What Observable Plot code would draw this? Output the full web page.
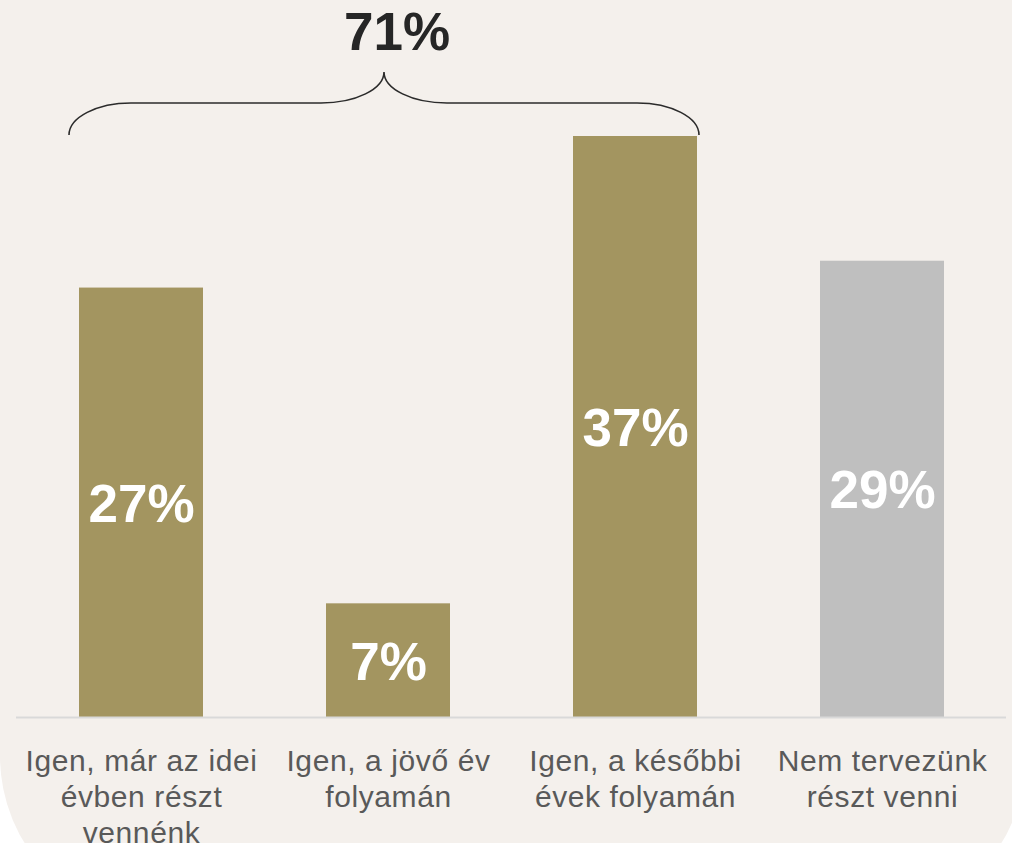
<!DOCTYPE html>
<html>
<head>
<meta charset="utf-8">
<script src="https://cdn.jsdelivr.net/npm/d3@7"></script>
<script src="https://cdn.jsdelivr.net/npm/@observablehq/plot@0.6"></script>
<style>
  html, body { margin: 0; padding: 0; width: 1012px; height: 843px; overflow: hidden; background: #ffffff; }
  #panel { position: absolute; left: 0; top: 0; width: 1026px; height: 923px; background: #f4f0ec;
           border-bottom-left-radius: 167px; border-bottom-right-radius: 167px; }
  #chart { position: absolute; left: 0; top: 0; }
  #chart svg { background: transparent; font-family: Arial, "Liberation Sans", sans-serif; }
  #chart text[aria-label="category-labels"], #chart text[aria-label="category-labels"] tspan { letter-spacing: 0.6px; }
</style>
</head>
<body>
<div id="panel"></div>
<div id="chart"></div>
<script>
const categories = [
  "Igen, már az idei\névben részt\nvennénk",
  "Igen, a jövő év\nfolyamán",
  "Igen, a későbbi\névek folyamán",
  "Nem tervezünk\nrészt venni"
];
const values = [27.2, 7.2, 36.8, 28.9];
const valueLabels = ["27%", "7%", "37%", "29%"];
const barColors = ["#a39560", "#a39560", "#a39560", "#bfbfbf"];
const braceLabel = "71%";
const bracedCount = 3;

const data = categories.map((c, i) => ({cat: c, value: values[i], label: valueLabels[i], color: barColors[i]}));

function braceMark(index, scales, channels, dimensions) {
  const x = scales.x, y = scales.y;
  const bw = x.bandwidth();
  const xL = x(categories[0]) - 10;
  const xR = x(categories[bracedCount - 1]) + bw + 2;
  const xC = (xL + xR) / 2;
  const yBot = y(d3.max(values.slice(0, bracedCount))) - 1;
  const yMid = yBot - 32;
  const yTop = yBot - 63;
  const r1 = 62, r2 = 63;
  const p = d3.path();
  p.moveTo(xL, yBot);
  p.bezierCurveTo(xL, yBot - 0.55 * (yBot - yMid), xL + r1 - 0.55 * r1, yMid, xL + r1, yMid);
  p.lineTo(xC - r2, yMid);
  p.bezierCurveTo(xC - r2 + 0.55 * r2, yMid, xC, yTop + 0.55 * (yMid - yTop), xC, yTop);
  p.bezierCurveTo(xC, yTop + 0.55 * (yMid - yTop), xC + r2 - 0.55 * r2, yMid, xC + r2, yMid);
  p.lineTo(xR - r1, yMid);
  p.bezierCurveTo(xR - r1 + 0.55 * r1, yMid, xR, yBot - 0.55 * (yBot - yMid), xR, yBot);
  const g = d3.create("svg:g");
  g.append("path").attr("d", p.toString()).attr("fill", "none")
    .attr("stroke", "#2b2b2b").attr("stroke-width", 1.6);
  g.append("text").attr("x", xC + 13).attr("y", yTop - 22)
    .attr("text-anchor", "middle").attr("font-size", 53).attr("font-weight", "bold")
    .attr("fill", "#262626").text(braceLabel);
  return g.node();
}

const chart = Plot.plot({
  width: 1012,
  height: 843,
  marginLeft: 16,
  marginRight: 6,
  marginTop: 136,
  marginBottom: 126,
  style: {background: "transparent", fontFamily: "Arial, 'Liberation Sans', sans-serif"},
  x: {domain: categories, paddingInner: 0.5, paddingOuter: 0.246, axis: null},
  y: {domain: [0, 36.8], axis: null},
  marks: [
    Plot.barY(data, {x: "cat", y: "value", fill: "color"}),
    Plot.ruleY([0], {stroke: "#d9d9d9", strokeWidth: 2}),
    Plot.text(data, {x: "cat", y: d => d.value / 2, text: "label", fill: "white",
      fontSize: 53, fontWeight: "bold", dy: 2}),
    Plot.text(data, {x: "cat", y: 0, text: "cat", fill: "#595959", fontSize: 30,
      lineAnchor: "top", dy: 28, lineHeight: 1.2, ariaLabel: () => "category-labels"}),
    braceMark
  ]
});
document.getElementById("chart").appendChild(chart);
</script>
</body>
</html>
